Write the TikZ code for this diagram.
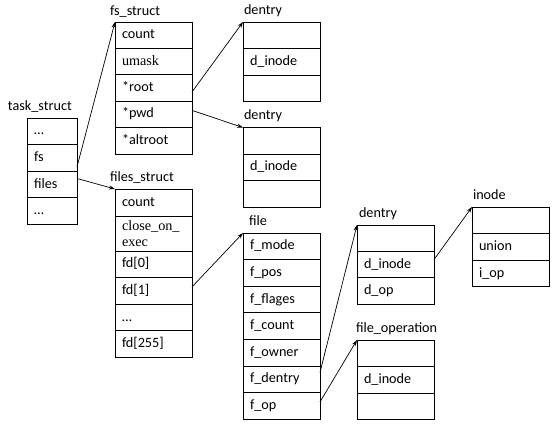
\documentclass[tikz,border=0pt]{standalone}
\usepackage{fontspec}
\setmainfont{Carlito}
\newfontfamily\timesface{Liberation Serif}
\usetikzlibrary{arrows.meta}

\begin{document}
\begin{tikzpicture}[x=1pt,y=-1pt,inner sep=0pt,outer sep=0pt,
  font=\fontsize{14.2}{16}\selectfont,
  cell/.style={draw=black,line width=.8pt,anchor=north west,inner xsep=7pt,minimum height=26.6pt,align=left},
  row/.style={cell,text height=10pt,text depth=3pt},
  wide/.style={row,text width=63pt},
  narrow/.style={row,text width=36pt},
  title/.style={anchor=base west},
  link/.style={-{Stealth[length=6pt,width=4pt]},line width=.7pt}]
\useasboundingbox (0,0) rectangle (559,426);

% task_struct
\node at (8,110) [title] (TaskTitle) {task\_struct};
\node at (27,118) [narrow] (TaskA) {…};
\node at (TaskA.south west) [narrow] (TaskFs) {fs};
\node at (TaskFs.south west) [narrow] (TaskFiles) {files};
\node at (TaskFiles.south west) [narrow] (TaskB) {…};

% fs_struct
\node at (110,15) [title] (FsTitle) {fs\_struct};
\node at (115,22) [wide,minimum height=26.4pt] (FsCount) {count};
\node at (FsCount.south west) [wide,minimum height=26.4pt] (FsUmask) {\timesface umask};
\node at (FsUmask.south west) [wide,minimum height=26.4pt] (FsRoot) {*root};
\node at (FsRoot.south west) [wide,minimum height=26.4pt] (FsPwd) {*pwd};
\node at (FsPwd.south west) [wide,minimum height=26.4pt] (FsAltroot) {*altroot};

% dentry (root)
\node at (244,14) [title] (RootTitle) {dentry};
\node at (243,22) [wide] (RootA) {};
\node at (RootA.south west) [wide] (RootInode) {d\_inode};
\node at (RootInode.south west) [wide] (RootB) {};

% dentry (pwd)
\node at (244,119) [title] (PwdTitle) {dentry};
\node at (243,127.5) [wide] (PwdA) {};
\node at (PwdA.south west) [wide] (PwdInode) {d\_inode};
\node at (PwdInode.south west) [wide] (PwdB) {};

% files_struct
\node at (110,181) [title] (FilesTitle) {files\_struct};
\node at (115,189) [wide,minimum height=27pt] (FilesCount) {count};
\node at (FilesCount.south west) [cell,text width=63pt,minimum height=35pt] (FilesClose)
  {\timesface\fontsize{14.2}{15}\selectfont close\_on\_\\exec};
\node at (FilesClose.south west) [wide] (FilesFdA) {fd[0]};
\node at (FilesFdA.south west) [wide] (FilesFdB) {fd[1]};
\node at (FilesFdB.south west) [wide] (FilesDots) {…};
\node at (FilesDots.south west) [wide] (FilesFdC) {fd[255]};

% file
\node at (249,225) [title] (FileTitle) {file};
\node at (243,233) [wide] (FileMode) {f\_mode};
\node at (FileMode.south west) [wide] (FilePos) {f\_pos};
\node at (FilePos.south west) [wide] (FileFlages) {f\_flages};
\node at (FileFlages.south west) [wide] (FileCount) {f\_count};
\node at (FileCount.south west) [wide] (FileOwner) {f\_owner};
\node at (FileOwner.south west) [wide] (FileDentry) {f\_dentry};
\node at (FileDentry.south west) [wide] (FileOp) {f\_op};

% dentry (file)
\node at (359,217) [title] (DenTitle) {dentry};
\node at (357,225) [wide,minimum height=26.4pt] (DenA) {};
\node at (DenA.south west) [wide,minimum height=26.4pt] (DenInode) {d\_inode};
\node at (DenInode.south west) [wide,minimum height=26.4pt] (DenOp) {d\_op};

% inode
\node at (473,199) [title] (InodeTitle) {inode};
\node at (472,207) [wide] (InodeA) {};
\node at (InodeA.south west) [wide] (InodeUnion) {union};
\node at (InodeUnion.south west) [wide] (InodeOp) {i\_op};

% file_operation
\node at (356,332) [title] (OpTitle) {file\_operation};
\node at (357,340) [wide] (OpA) {};
\node at (OpA.south west) [wide] (OpInode) {d\_inode};
\node at (OpInode.south west) [wide] (OpB) {};

\draw[link] ([yshift=-9pt]TaskFs.east) -- (FsCount.north west);
\draw[link] ([yshift=6pt]TaskFiles.east) -- (FilesCount.north west);
\draw[link] ([yshift=-4pt]FsRoot.east) -- (RootA.north west);
\draw[link] ([yshift=4pt]FsPwd.east) -- (PwdA.north west);
\draw[link] ([yshift=4pt]FilesFdB.east) -- (FileMode.north west);
\draw[link] ([yshift=7pt]FileDentry.east) -- (DenA.north west);
\draw[link] ([yshift=4pt]FileOp.east) -- (OpA.north west);
\draw[link] ([yshift=5pt]DenInode.east) -- (InodeA.north west);

\end{tikzpicture}
\end{document}
